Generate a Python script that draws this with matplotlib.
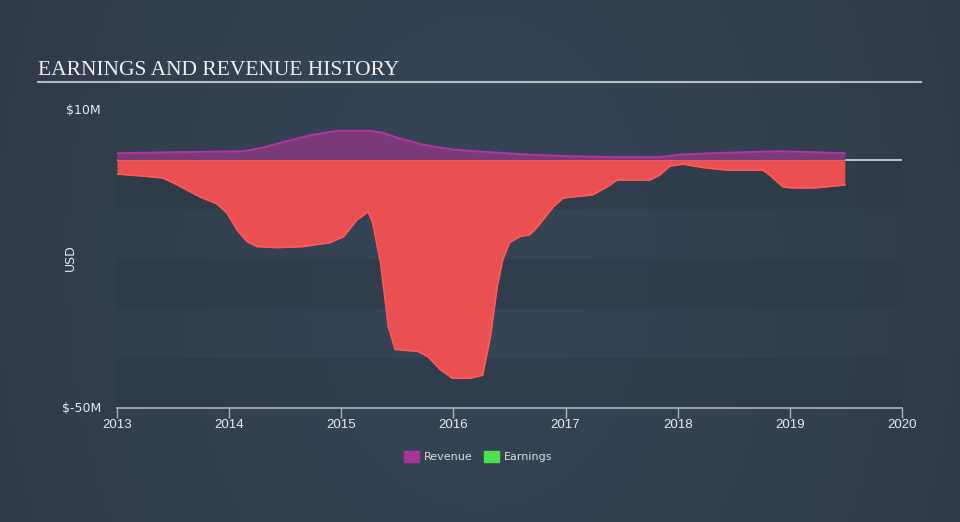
import numpy as np
import matplotlib
matplotlib.use("Agg")
import matplotlib.pyplot as plt
from matplotlib.patches import Rectangle

# ---- data (USD millions, decimal years) ----
earn_t = [2013.00, 2013.23, 2013.41, 2013.54, 2013.74, 2013.89, 2013.98, 2014.07, 2014.16, 2014.25,
          2014.43, 2014.66, 2014.90, 2015.02, 2015.14, 2015.24, 2015.28, 2015.35, 2015.42, 2015.48,
          2015.68, 2015.77, 2015.88, 2015.99, 2016.15, 2016.26, 2016.33, 2016.39, 2016.44, 2016.50,
          2016.59, 2016.68, 2016.75, 2016.89, 2016.98, 2017.24, 2017.37, 2017.46, 2017.75, 2017.84,
          2017.93, 2018.05, 2018.23, 2018.44, 2018.76, 2018.82, 2018.94, 2019.03, 2019.21, 2019.49]
earn_v = [-2.9, -3.3, -3.7, -5.1, -7.5, -8.9, -10.7, -14.1, -16.5, -17.5,
          -17.7, -17.5, -16.7, -15.5, -12.1, -10.5, -12.7, -20.7, -33.6, -38.2,
          -38.6, -39.6, -42.2, -44.0, -44.0, -43.4, -35.6, -25.6, -20.1, -16.7,
          -15.5, -15.1, -13.5, -9.5, -7.7, -7.1, -5.5, -4.1, -4.1, -3.1,
          -1.3, -0.9, -1.6, -2.1, -2.1, -3.1, -5.5, -5.7, -5.7, -5.1]

rev_t = [2013.00, 2013.54, 2014.13, 2014.28, 2014.48, 2014.72, 2014.96, 2015.26, 2015.37, 2015.50,
         2015.73, 2016.00, 2016.39, 2016.68, 2017.03, 2017.42, 2017.84, 2018.02, 2018.31, 2018.61,
         2018.91, 2019.49]
rev_v = [1.3, 1.5, 1.7, 2.3, 3.5, 4.9, 5.8, 5.8, 5.4, 4.4,
         3.0, 2.0, 1.4, 1.0, 0.7, 0.5, 0.5, 1.0, 1.3, 1.5,
         1.7, 1.3]

x_ticks = [2013, 2014, 2015, 2016, 2017, 2018, 2019, 2020]
y_labels = {10: "$10M", -50: "$-50M"}

W, H = 960, 522
fig = plt.figure(figsize=(W / 100, H / 100), dpi=100)

# background gradient (mostly horizontal, lighter in the centre)
bg = fig.add_axes([0, 0, 1, 1], zorder=-10)
xs = np.linspace(-1, 1, 480)
ys = np.linspace(-1, 1, 261)
X, Y = np.meshgrid(xs, ys)
r = np.clip(np.sqrt(X**2 + 0.15 * Y**2), 0, 1) ** 1.6
c_center = np.array([0x35, 0x45, 0x56]) / 255
c_edge = np.array([0x30, 0x3b, 0x47]) / 255
img = c_center[None, None, :] * (1 - r[..., None]) + c_edge[None, None, :] * r[..., None]
bg.imshow(img, aspect="auto", extent=[0, 1, 0, 1], interpolation="bilinear")
bg.set_axis_off()

# title
fig.text(38 / W, 1 - 75 / H, "EARNINGS AND REVENUE HISTORY", family="Liberation Serif",
         fontsize=15.5, color="#f0f0f0", va="baseline", ha="left")
fig.add_artist(plt.Line2D([38 / W, 921 / W], [1 - 82 / H, 1 - 82 / H], color="#b8bcc2", lw=1.5))

ax = fig.add_axes([117 / W, 1 - 408 / H, (902 - 117) / W, (408 - 110) / H])
ax.set_facecolor("none")
ax.set_xlim(2013, 2020)
ax.set_ylim(-50, 10)

# bands
for lo in [-10, -30, -50]:
    ax.axhspan(lo, lo + 10, color="#2c3947", alpha=0.55, lw=0, zorder=0)

ax.axhline(0, color="#d8dce0", lw=1.2, zorder=1)

ax.fill_between(rev_t, 0, rev_v, color="#7a3a78", lw=0, zorder=2)
ax.plot(rev_t, rev_v, color="#b0359e", lw=1.5, zorder=3)
ax.fill_between(earn_t, 0, earn_v, color="#ea4f52", lw=0, zorder=2)
ax.plot(earn_t, earn_v, color="#ff5a5a", lw=1.2, zorder=3)

for s in ["top", "right", "left"]:
    ax.spines[s].set_visible(False)
ax.spines["bottom"].set_color("#aab4c0")
ax.spines["bottom"].set_linewidth(1.2)
ax.set_xticks(x_ticks)
ax.set_xticklabels([str(t) for t in x_ticks])
ax.tick_params(axis="x", colors="#aab4c0", length=7, width=1, labelcolor="#e8eaec",
               labelsize=9.5, pad=1)
for lbl in ax.get_xticklabels():
    lbl.set_family("Liberation Sans")
ax.set_yticks([])

for v, s in y_labels.items():
    ax.text(-16 / (902 - 117), (v + 50) / 60, s, transform=ax.transAxes, ha="right", va="center",
            color="#e8eaec", fontsize=9, family="DejaVu Sans")
fig.text(70 / W, 1 - 258 / H, "USD", rotation=90, ha="center", va="center",
         color="#e8eaec", fontsize=9, family="DejaVu Sans")

# legend
fig.add_artist(Rectangle((404 / W, 1 - 462 / H), 15 / W, 11 / H, color="#a8339a"))
fig.text(424 / W, 1 - 456.5 / H, "Revenue", color="#d8dce0", fontsize=8, va="center")
fig.add_artist(Rectangle((484 / W, 1 - 462 / H), 15 / W, 11 / H, color="#4fe04f"))
fig.text(504 / W, 1 - 456.5 / H, "Earnings", color="#d8dce0", fontsize=8, va="center")

fig.savefig("out.png", dpi=100)
